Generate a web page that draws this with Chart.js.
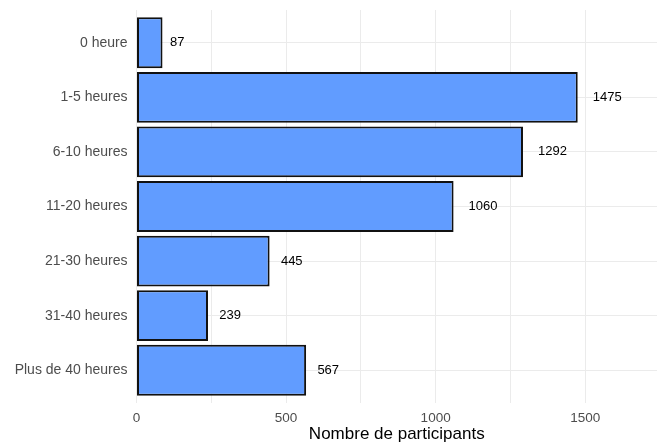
<!DOCTYPE html>
<html lang="fr">
<head>
<meta charset="utf-8">
<script src="https://cdn.jsdelivr.net/npm/chart.js@4"></script>
<style>
  body { margin: 0; background: #ffffff; }
  canvas { display: block; }
</style>
</head>
<body>
<canvas id="graphique" width="660" height="445"></canvas>
<script>
const categories = ['0 heure', '1-5 heures', '6-10 heures', '11-20 heures', '21-30 heures', '31-40 heures', 'Plus de 40 heures'];
const participants = [87, 1475, 1292, 1060, 445, 239, 567];
const xTicks = [0, 500, 1000, 1500];
const xMinorTicks = [250, 750, 1250];
const xMax = 1740;

const police = "'Liberation Sans', Arial, sans-serif";

// étiquettes de valeur au bout des barres (décalage proportionnel à la largeur du texte)
const etiquettesValeurs = {
  id: 'etiquettesValeurs',
  afterDatasetsDraw(chart) {
    const ctx = chart.ctx;
    const meta = chart.getDatasetMeta(0);
    ctx.save();
    ctx.font = '13px ' + police;
    ctx.fillStyle = '#000000';
    ctx.textAlign = 'left';
    ctx.textBaseline = 'middle';
    meta.data.forEach((barre, i) => {
      const txt = String(participants[i]);
      const w = ctx.measureText(txt).width;
      ctx.fillText(txt, barre.x + 0.52 * w, barre.y);
    });
    ctx.restore();
  }
};

const ctx = document.getElementById('graphique').getContext('2d');

new Chart(ctx, {
  type: 'bar',
  data: {
    datasets: [{
      label: 'Participants',
      data: participants.map((v, i) => ({ x: v, y: i })),
      backgroundColor: '#619CFF',
      borderColor: '#111111',
      borderWidth: 2,
      borderSkipped: false,
      barPercentage: 0.93,
      categoryPercentage: 1
    }]
  },
  options: {
    indexAxis: 'y',
    responsive: false,
    animation: false,
    layout: { padding: { top: 10, right: 3, bottom: 0, left: 0 } },
    plugins: {
      legend: { display: false },
      tooltip: { enabled: false }
    },
    scales: {
      x: {
        type: 'linear',
        min: 0,
        max: xMax,
        afterBuildTicks: (scale) => {
          scale.ticks = xTicks.concat(xMinorTicks).sort((a, b) => a - b).map(v => ({ value: v }));
        },
        afterFit: (scale) => { scale.height = 42; },
        ticks: {
          autoSkip: false,
          maxRotation: 0,
          padding: 7,
          color: '#4D4D4D',
          font: { family: police, size: 13.5 },
          callback: (v) => xTicks.includes(v) ? String(v) : ''
        },
        grid: { color: '#EBEBEB', lineWidth: 1, drawTicks: false },
        border: { display: false },
        title: {
          display: true,
          text: 'Nombre de participants',
          color: '#000000',
          font: { family: police, size: 17 },
          padding: { top: 0, bottom: 0 }
        }
      },
      y: {
        type: 'linear',
        reverse: true,
        offset: false,
        min: -0.6,
        max: 6.6,
        afterBuildTicks: (scale) => {
          scale.ticks = categories.map((c, i) => ({ value: i }));
        },
        afterFit: (scale) => {
          scale.width = 136.5;
          scale.paddingTop = 0;
          scale.paddingBottom = 0;
        },
        ticks: {
          autoSkip: false,
          padding: 9,
          color: '#4D4D4D',
          font: { family: police, size: 14 },
          callback: (v) => categories[v]
        },
        grid: { color: '#EBEBEB', lineWidth: 1, drawTicks: false, offset: false },
        border: { display: false }
      }
    }
  },
  plugins: [etiquettesValeurs]
});
</script>
</body>
</html>
